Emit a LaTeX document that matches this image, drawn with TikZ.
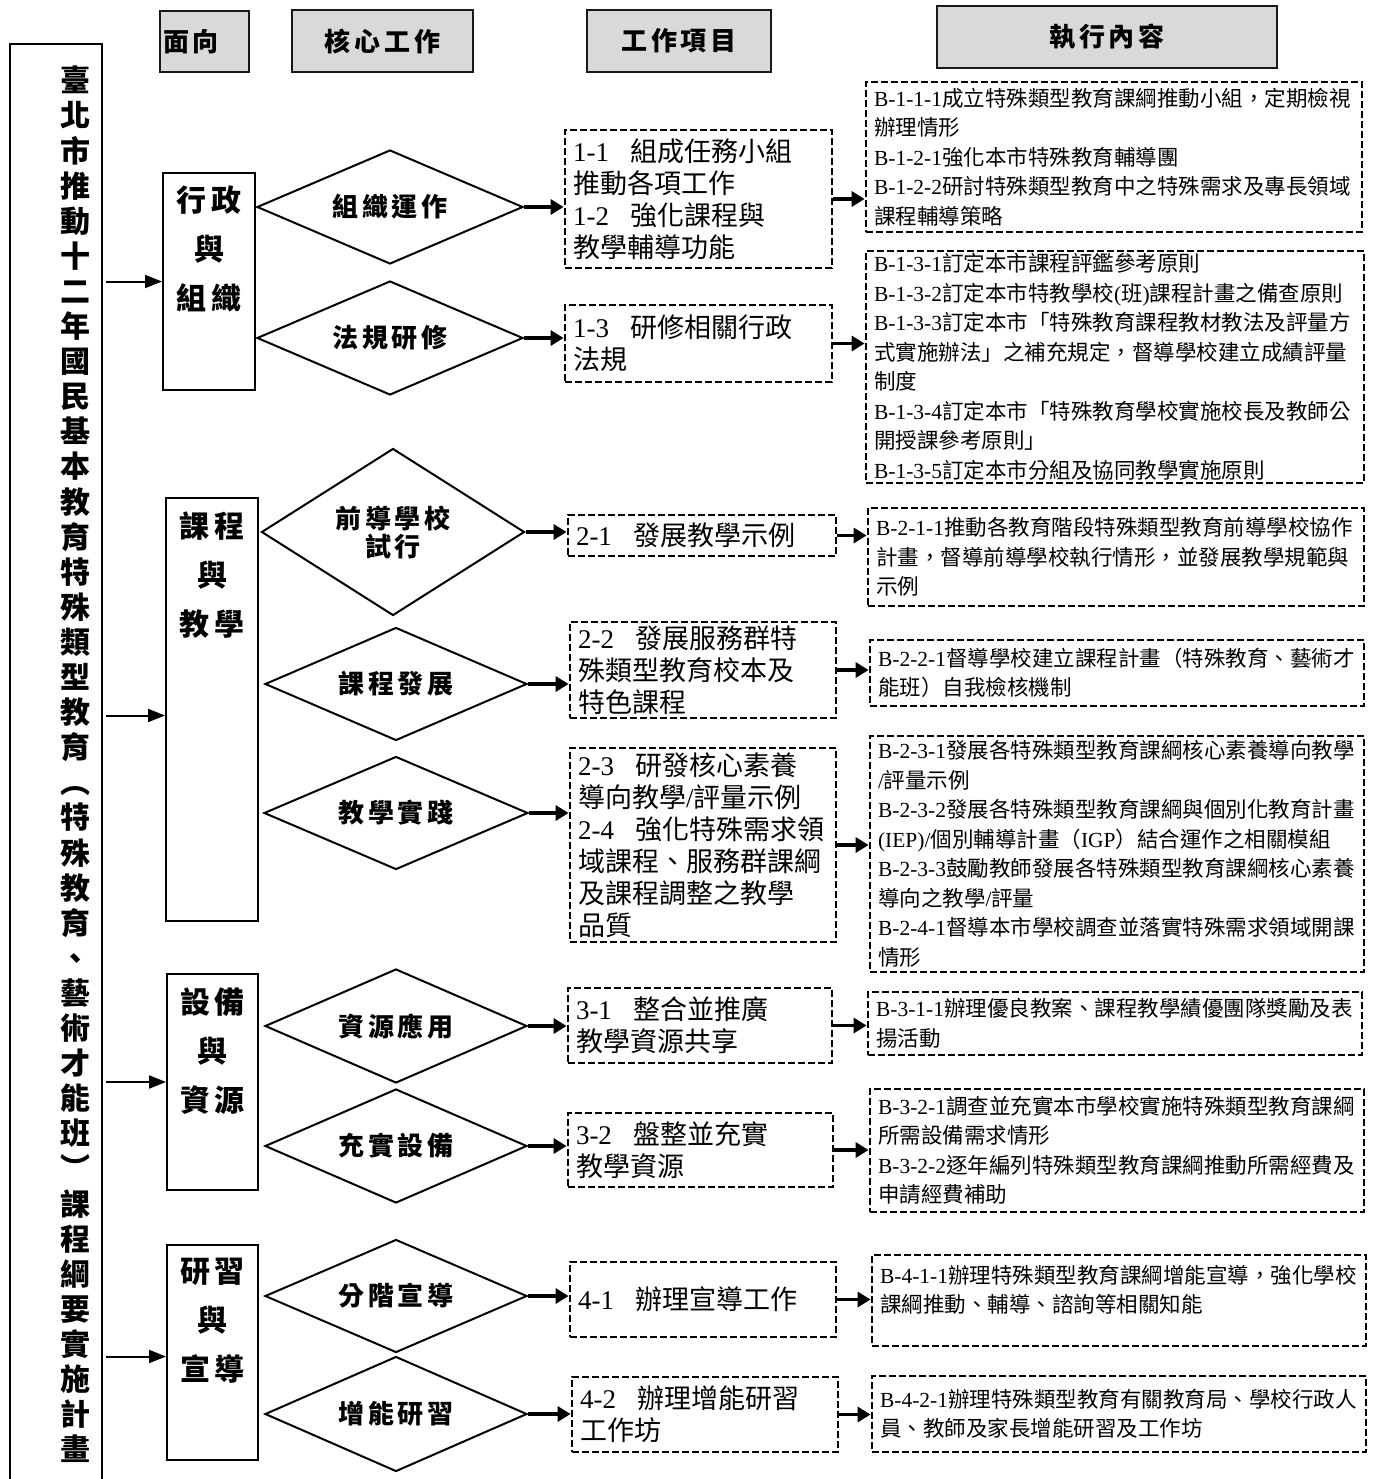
\documentclass[tikz,border=0pt]{standalone}
\usepackage{fontspec}
\setmainfont{Noto Sans CJK TC}
\newfontfamily\tm{Liberation Serif}
\newfontfamily\spfont{Noto Sans CJK TC}[LetterSpace=15]
\usetikzlibrary{shapes.geometric,arrows.meta}
\definecolor{hdrgray}{HTML}{D9D9D9}
\newcommand\lt[1]{{\tm #1}}
\tikzset{
  hdrbox/.style={draw=black!90, line width=2pt, fill=hdrgray, inner sep=0pt,
    font=\spfont\bfseries\fontsize{26}{30}\selectfont},
  secbox/.style={draw, line width=2pt, inner sep=0pt},
  sectext/.style={inner sep=0pt, align=center, font=\spfont\bfseries\fontsize{30}{49}\selectfont},
  titletext/.style={inner sep=0pt, align=center, font=\bfseries\fontsize{30}{35.1}\selectfont},
  dia/.style={diamond, aspect=2.3, draw, line width=2pt, inner sep=0pt, align=center,
    font=\spfont\bfseries\fontsize{26}{28}\selectfont},
  wbox/.style={draw, dash pattern=on 7pt off 3pt, line width=2.8pt, inner xsep=8pt, inner ysep=0pt,
    align=left, font=\fontsize{27}{32}\selectfont},
  bbox/.style={draw, dash pattern=on 7pt off 3pt, line width=2.8pt, inner xsep=8pt, inner ysep=0pt,
    align=left, font=\fontsize{21.5}{29.5}\selectfont},
  harr/.style={line width=3.6pt, -{Triangle[length=13pt,width=15pt]}},
  larr/.style={line width=2pt, -{Triangle[length=17pt,width=13pt]}},
}
\begin{document}
\begin{tikzpicture}[x=1pt,y=-1pt]
\path[use as bounding box, fill=white] (0,0) rectangle (1376,1479);
\clip (0,0) rectangle (1376,1479);

% headers
\node[hdrbox, minimum width=89pt, minimum height=61pt, text width=83pt, align=left] (H1) at (204.5,41.5) {面向};
\node[hdrbox, minimum width=181pt, minimum height=62pt] (H2) at (382.5,41) {核心工作};
\node[hdrbox, minimum width=184pt, minimum height=62pt] (H3) at (679,41) {工作項目};
\node[hdrbox, minimum width=340pt, minimum height=62pt] (H4) at (1107,37) {執行內容};

% left title box
\node[draw, line width=2pt, minimum width=92pt, minimum height=1456pt, inner sep=0pt] (L) at (56,772) {};
\node[titletext, anchor=north] (T) at (75,66) {臺\\北\\市\\推\\動\\十\\二\\年\\國\\民\\基\\本\\教\\育\\特\\殊\\類\\型\\教\\育\\︵\\特\\殊\\教\\育\\、\\藝\\術\\才\\能\\班\\︶\\課\\程\\綱\\要\\實\\施\\計\\畫};

% section boxes
\node[secbox, minimum width=92pt, minimum height=217pt] (S1) at (209,281.5) {};
\node[sectext, anchor=north] (S1t) at ([yshift=-14pt]S1.north) {行政\\與\\組織};
\node[secbox, minimum width=92pt, minimum height=423pt] (S2) at (212,709.5) {};
\node[sectext, anchor=north] (S2t) at ([yshift=-14pt]S2.north) {課程\\與\\教學};
\node[secbox, minimum width=91pt, minimum height=216pt] (S3) at (212.5,1082) {};
\node[sectext, anchor=north] (S3t) at ([yshift=-14pt]S3.north) {設備\\與\\資源};
\node[secbox, minimum width=91pt, minimum height=215pt] (S4) at (212.5,1352.5) {};
\node[sectext, anchor=north] (S4t) at ([yshift=-14pt]S4.north) {研習\\與\\宣導};

% diamonds
\node[dia, minimum width=266pt, minimum height=114pt] (D1) at (390,207) {組織運作};
\node[dia, minimum width=266pt, minimum height=114pt] (D2) at (390,338) {法規研修};
\node[dia, minimum width=263pt, minimum height=167pt] (D3) at (393,532) {前導學校\\試行};
\node[dia, minimum width=262pt, minimum height=113pt] (D4) at (396,684) {課程發展};
\node[dia, minimum width=264pt, minimum height=113pt] (D5) at (396,813) {教學實踐};
\node[dia, minimum width=262pt, minimum height=114pt] (D6) at (396,1026) {資源應用};
\node[dia, minimum width=262pt, minimum height=114pt] (D7) at (396,1146) {充實設備};
\node[dia, minimum width=262pt, minimum height=113pt] (D8) at (396,1296) {分階宣導};
\node[dia, minimum width=262pt, minimum height=115pt] (D9) at (396,1414) {增能研習};

% work item boxes
\node[wbox, text width=251pt, minimum height=138pt] (W1) at (698.5,199) {\lt{1-1}\hspace{0.8em}組成任務小組\\推動各項工作\\\lt{1-2}\hspace{0.8em}強化課程與\\教學輔導功能};
\node[wbox, text width=251pt, minimum height=77pt] (W2) at (698.5,343.5) {\lt{1-3}\hspace{0.8em}研修相關行政\\法規};
\node[wbox, text width=252pt, minimum height=41pt] (W3) at (702,535.5) {\lt{2-1}\hspace{0.8em}發展教學示例};
\node[wbox, text width=250pt, minimum height=96pt] (W4) at (703,670) {\lt{2-2}\hspace{0.8em}發展服務群特\\殊類型教育校本及\\特色課程};
\node[wbox, text width=250pt, minimum height=194pt] (W5) at (703,845) {\lt{2-3}\hspace{0.8em}研發核心素養\\導向教學\lt{/}評量示例\\\lt{2-4}\hspace{0.8em}強化特殊需求領\\域課程、服務群課綱\\及課程調整之教學\\品質};
\node[wbox, text width=248pt, minimum height=75pt] (W6) at (700,1025.5) {\lt{3-1}\hspace{0.8em}整合並推廣\\教學資源共享};
\node[wbox, text width=249pt, minimum height=74pt] (W7) at (700.5,1150) {\lt{3-2}\hspace{0.8em}盤整並充實\\教學資源};
\node[wbox, text width=250pt, minimum height=75pt] (W8) at (703,1299.5) {\lt{4-1}\hspace{0.8em}辦理宣導工作};
\node[wbox, text width=250pt, minimum height=75pt] (W9) at (705,1414.5) {\lt{4-2}\hspace{0.8em}辦理增能研習\\工作坊};

% execution boxes
\node[bbox, text width=480pt, minimum height=150pt] (B1) at (1114,157) {\lt{B-1-1-1}成立特殊類型教育課綱推動小組，定期檢視\\辦理情形\\\lt{B-1-2-1}強化本市特殊教育輔導團\\\lt{B-1-2-2}研討特殊類型教育中之特殊需求及專長領域\\課程輔導策略};
\node[bbox, text width=482pt, minimum height=232pt] (B2) at (1115,367) {\lt{B-1-3-1}訂定本市課程評鑑參考原則\\\lt{B-1-3-2}訂定本市特教學校\lt{(}班\lt{)}課程計畫之備查原則\\\lt{B-1-3-3}訂定本市「特殊教育課程教材教法及評量方\\式實施辦法」之補充規定，督導學校建立成績評量\\制度\\\lt{B-1-3-4}訂定本市「特殊教育學校實施校長及教師公\\開授課參考原則」\\\lt{B-1-3-5}訂定本市分組及協同教學實施原則};
\node[bbox, text width=480pt, minimum height=98pt] (B3) at (1116,557) {\lt{B-2-1-1}推動各教育階段特殊類型教育前導學校協作\\計畫，督導前導學校執行情形，並發展教學規範與\\示例};
\node[bbox, text width=478pt, minimum height=66pt] (B4) at (1117,673) {\lt{B-2-2-1}督導學校建立課程計畫（特殊教育、藝術才\\能班）自我檢核機制};
\node[bbox, text width=478pt, minimum height=236pt] (B5) at (1117,854) {\lt{B-2-3-1}發展各特殊類型教育課綱核心素養導向教學\\\lt{/}評量示例\\\lt{B-2-3-2}發展各特殊類型教育課綱與個別化教育計畫\\\lt{(IEP)/}個別輔導計畫（\lt{IGP}）結合運作之相關模組\\\lt{B-2-3-3}鼓勵教師發展各特殊類型教育課綱核心素養\\導向之教學\lt{/}評量\\\lt{B-2-4-1}督導本市學校調查並落實特殊需求領域開課\\情形};
\node[bbox, text width=478pt, minimum height=63pt] (B6) at (1115,1023.5) {\lt{B-3-1-1}辦理優良教案、課程教學績優團隊獎勵及表\\揚活動};
\node[bbox, text width=478pt, minimum height=123pt] (B7) at (1117,1150.5) {\lt{B-3-2-1}調查並充實本市學校實施特殊類型教育課綱\\所需設備需求情形\\\lt{B-3-2-2}逐年編列特殊類型教育課綱推動所需經費及\\申請經費補助};
\node[bbox, text width=478pt, minimum height=91pt] (B8) at (1119,1300.5) {\lt{B-4-1-1}辦理特殊類型教育課綱增能宣導，強化學校\\課綱推動、輔導、諮詢等相關知能\\[-6pt]\mbox{}};
\node[bbox, text width=478pt, minimum height=76pt] (B9) at (1119,1414) {\lt{B-4-2-1}辦理特殊類型教育有關教育局、學校行政人\\員、教師及家長增能研習及工作坊};

% left arrows
\draw[larr] ([xshift=3pt]S1.west -| L.east) -- (S1.west);
\draw[larr] ([xshift=3pt,yshift=-6pt]S2.west -| L.east) -- ([yshift=-6pt]S2.west);
\draw[larr] ([xshift=3pt]S3.west -| L.east) -- (S3.west);
\draw[larr] ([xshift=3pt,yshift=-4pt]S4.west -| L.east) -- ([yshift=-4pt]S4.west);

% diamond -> work item -> execution arrows
\foreach \i in {1,...,9} {
  \draw[harr] (D\i.east) -- (D\i.east -| W\i.west);
  \draw[harr] (W\i.east) -- (W\i.east -| B\i.west);
}
\end{tikzpicture}
\end{document}
